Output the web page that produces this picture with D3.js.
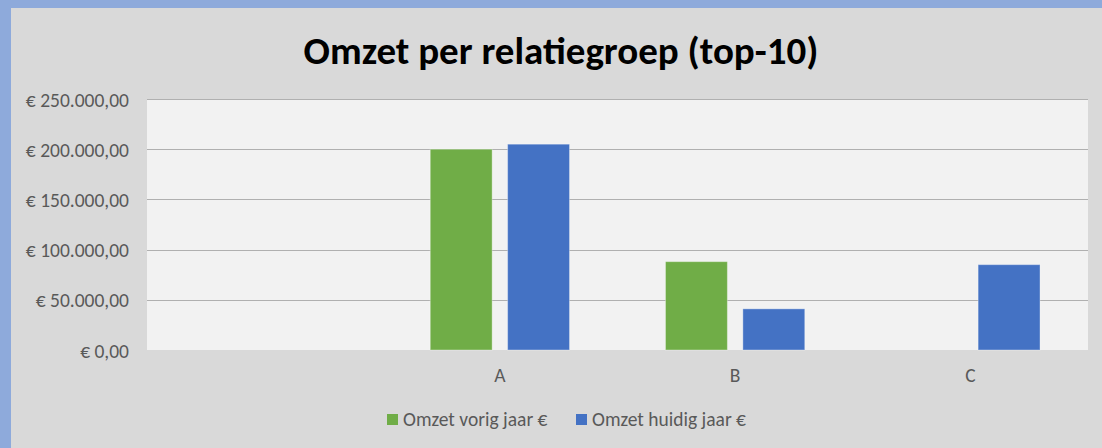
<!DOCTYPE html>
<html>
<head>
<meta charset="utf-8">
<script src="https://cdn.jsdelivr.net/npm/d3@7"></script>
<style>
  body { margin: 0; background: #d9d9d9; }
  svg { display: block; font-family: Carlito, Lato, "Open Sans", sans-serif; }
</style>
</head>
<body>
<div id="chart"></div>
<script>
// categories (first one has no label, as in the sheet)
const categories = ["", "A", "B", "C"];
const seriesNames = ["Omzet vorig jaar €", "Omzet huidig jaar €"];
const vorigJaar = [null, 200000, 88000, null];
const huidigJaar = [null, 205000, 41000, 85000];
const yTicks = [0, 50000, 100000, 150000, 200000, 250000];

const seriesColors = ["#70ad47", "#4472c4"];

const W = 1102, H = 448;
const plot = { left: 147, right: 1088, top: 99, bottom: 350 };
const labelSize = "19.5px";

const svg = d3.select("#chart")
    .append("svg")
    .attr("width", W)
    .attr("height", H);

// background + blue frame on top/left
svg.append("rect").attr("width", W).attr("height", H).attr("fill", "#8eaadb");
svg.append("rect").attr("x", 11).attr("y", 8).attr("width", W - 11).attr("height", H - 8).attr("fill", "#d9d9d9");

svg.append("rect")
    .attr("x", plot.left).attr("y", plot.top)
    .attr("width", plot.right - plot.left)
    .attr("height", plot.bottom - plot.top)
    .attr("fill", "#f2f2f2");

// scales
const x0 = d3.scaleBand()
    .domain(categories.map((d, i) => i))
    .range([plot.left, plot.right]);

const x1 = d3.scaleBand()
    .domain(seriesNames)
    .range([0, x0.bandwidth()])
    .paddingInner(0.2)
    .paddingOuter(0.62);

const y = d3.scaleLinear()
    .domain([0, 250000])
    .range([plot.bottom, plot.top]);

// euro formatting, Dutch style
const nl = d3.formatLocale({ decimal: ",", thousands: ".", grouping: [3], currency: ["€ ", ""] });
const fmt = nl.format("$,.2f");

// gridlines
svg.append("g")
    .selectAll("line")
    .data(yTicks.filter(d => d > 0))
    .enter().append("line")
    .attr("x1", plot.left).attr("x2", plot.right)
    .attr("y1", d => Math.round(y(d)) + 0.5)
    .attr("y2", d => Math.round(y(d)) + 0.5)
    .attr("stroke", "#b0b0b0")
    .attr("stroke-width", 1);

// y axis labels
const yAxis = svg.append("g")
    .attr("transform", "translate(" + plot.left + ",0)")
    .call(d3.axisLeft(y).tickValues(yTicks).tickFormat(fmt).tickSize(0).tickPadding(18));
yAxis.select(".domain").remove();
yAxis.selectAll("text")
    .attr("fill", "#595959")
    .style("font-size", labelSize)
    .style("font-family", "Carlito, Lato, sans-serif")
    .attr("dy", "0.36em");

// x axis labels
const xAxis = svg.append("g")
    .attr("transform", "translate(0," + plot.bottom + ")")
    .call(d3.axisBottom(x0).tickFormat(i => categories[i]).tickSize(0).tickPadding(18));
xAxis.select(".domain").remove();
xAxis.selectAll("text")
    .attr("fill", "#595959")
    .style("font-size", labelSize)
    .style("font-family", "Carlito, Lato, sans-serif");

// bars
const rows = categories.map((c, i) => ({
    idx: i,
    values: [
        { key: seriesNames[0], value: vorigJaar[i], color: seriesColors[0] },
        { key: seriesNames[1], value: huidigJaar[i], color: seriesColors[1] }
    ]
}));

svg.append("g")
    .selectAll("g")
    .data(rows)
    .enter().append("g")
    .attr("transform", d => "translate(" + x0(d.idx) + ",0)")
    .selectAll("rect")
    .data(d => d.values.filter(v => v.value != null))
    .enter().append("rect")
    .attr("x", d => x1(d.key))
    .attr("y", d => y(d.value))
    .attr("width", x1.bandwidth())
    .attr("height", d => y(0) - y(d.value))
    .attr("fill", d => d.color)
    .attr("stroke", "#ffffff")
    .attr("stroke-opacity", 0.35)
    .attr("stroke-width", 1);

// title
svg.append("text")
    .attr("x", 561)
    .attr("y", 64)
    .attr("text-anchor", "middle")
    .style("font-size", "39px")
    .style("font-weight", "bold")
    .style("font-family", "Carlito, Lato, sans-serif")
    .attr("fill", "#000")
    .text("Omzet per relatiegroep (top-10)");

// legend
const legendX = [387, 576];
const legend = svg.append("g")
    .selectAll("g")
    .data(seriesNames)
    .enter().append("g")
    .attr("transform", (d, i) => "translate(" + legendX[i] + ",414)");

legend.append("rect")
    .attr("width", 11).attr("height", 11)
    .attr("fill", (d, i) => seriesColors[i]);

legend.append("text")
    .attr("x", 16)
    .attr("y", 11.5)
    .attr("fill", "#595959")
    .style("font-size", labelSize)
    .style("font-family", "Carlito, Lato, sans-serif")
    .text(d => d);
</script>
</body>
</html>
